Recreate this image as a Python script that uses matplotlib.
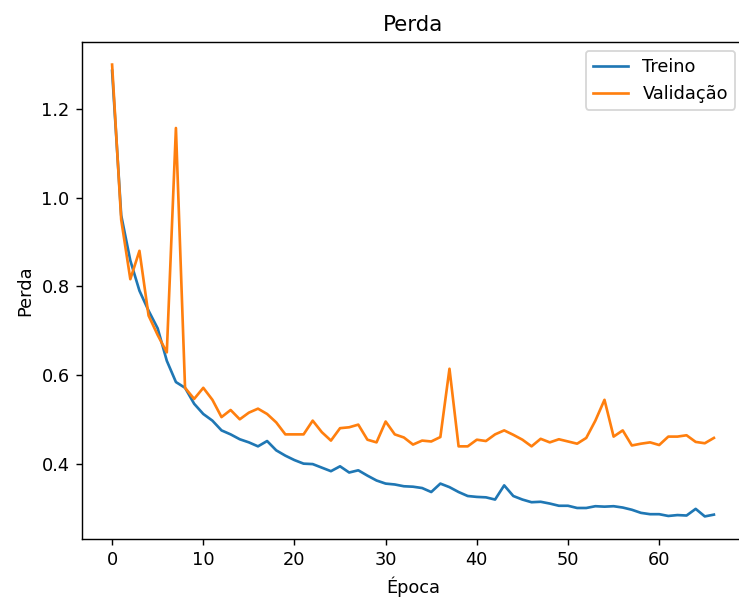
import matplotlib
matplotlib.use("Agg")
import matplotlib.pyplot as plt

treino = [1.286, 0.96, 0.858, 0.79, 0.745, 0.705, 0.632, 0.584, 0.571, 0.535,
          0.512, 0.497, 0.475, 0.466, 0.455, 0.448, 0.439, 0.451, 0.43, 0.418,
          0.408, 0.40, 0.399, 0.391, 0.383, 0.394, 0.38, 0.385, 0.373, 0.362,
          0.355, 0.353, 0.349, 0.348, 0.345, 0.336, 0.355, 0.347, 0.336, 0.327,
          0.325, 0.324, 0.319, 0.351, 0.327, 0.319, 0.313, 0.314, 0.31, 0.305,
          0.305, 0.30, 0.30, 0.304, 0.303, 0.304, 0.301, 0.296, 0.289, 0.286,
          0.286, 0.282, 0.284, 0.283, 0.298, 0.281, 0.285]
validacao = [1.30, 0.95, 0.816, 0.88, 0.734, 0.69, 0.651, 1.157, 0.571, 0.546,
             0.571, 0.544, 0.505, 0.521, 0.50, 0.515, 0.524, 0.512, 0.493, 0.466,
             0.466, 0.466, 0.497, 0.471, 0.452, 0.48, 0.482, 0.488, 0.454, 0.448,
             0.495, 0.466, 0.459, 0.443, 0.452, 0.45, 0.46, 0.614, 0.439, 0.439,
             0.454, 0.451, 0.466, 0.475, 0.465, 0.454, 0.439, 0.456, 0.448, 0.455,
             0.45, 0.445, 0.458, 0.497, 0.544, 0.461, 0.475, 0.441, 0.445, 0.448,
             0.442, 0.461, 0.461, 0.464, 0.449, 0.446, 0.458]
epocas = list(range(len(treino)))

# figura renderizada com dpi maior (texto e linhas maiores)
dpi = 128
fig = plt.figure(figsize=(739 / dpi, 599 / dpi), dpi=dpi)
# eixo passa um pouco da borda direita, como no original recortado
ax = fig.add_axes([82 / 739, 60 / 599, 662 / 739, 497 / 599])
ax.plot(epocas, treino, label='Treino')
ax.plot(epocas, validacao, label='Validação')
ax.set_title('Perda')
ax.set_xlabel('Época')
ax.set_ylabel('Perda')
ax.legend(loc='upper right')
fig.savefig('out.png', dpi=dpi)
